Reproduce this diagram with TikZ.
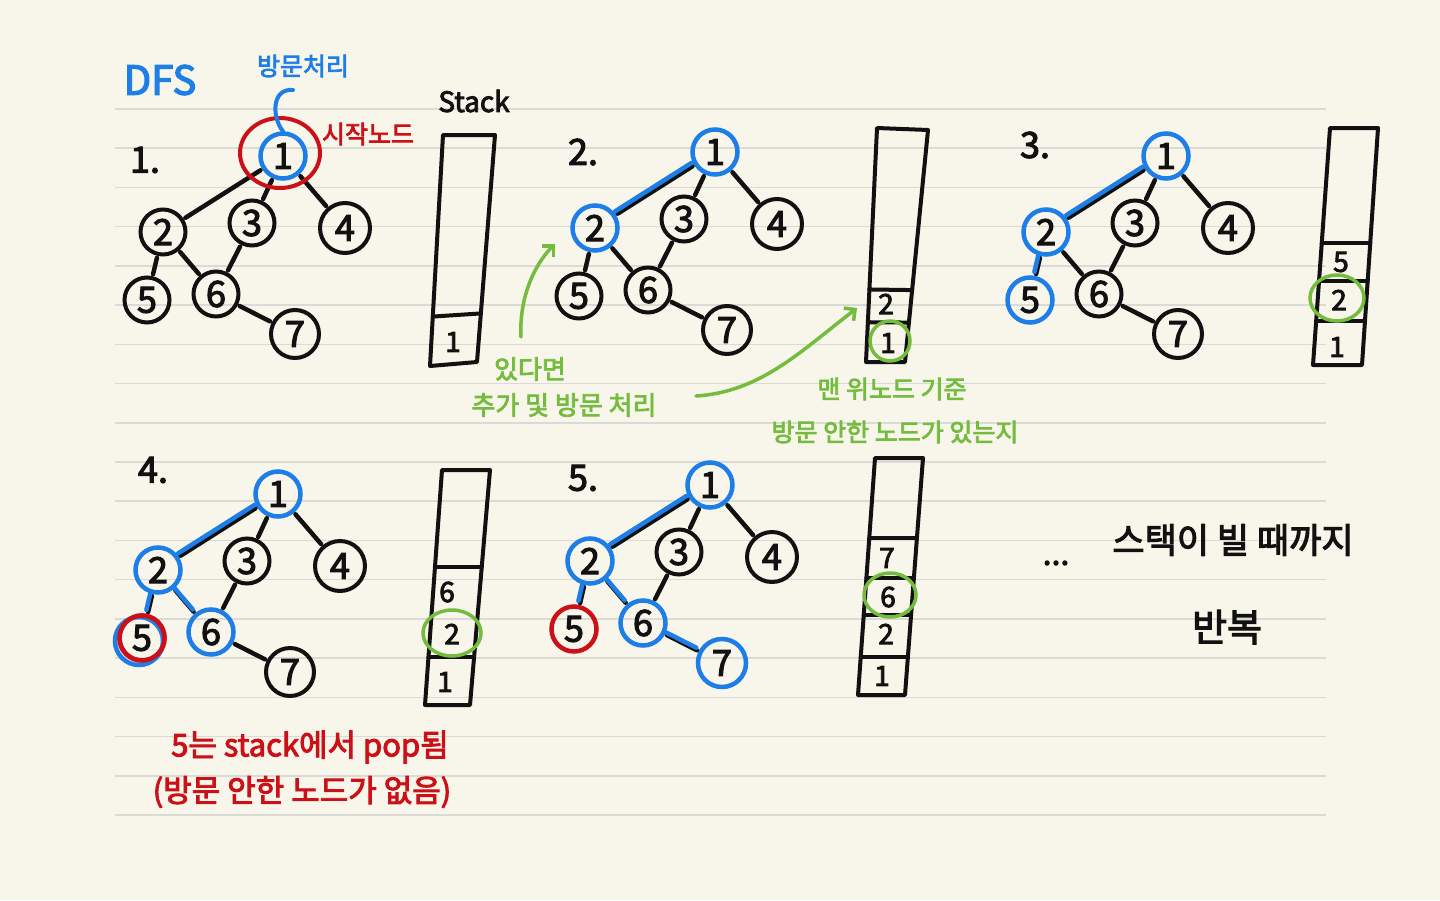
\documentclass[tikz,border=0pt]{standalone}
\usepackage{fontspec}
\setmainfont{Noto Sans CJK KR}[FakeBold=3]
\usetikzlibrary{arrows.meta,calc}
\definecolor{paper}{HTML}{F8F5EA}
\definecolor{rulecol}{HTML}{DADAD6}
\definecolor{ink}{HTML}{111111}
\definecolor{pblue}{HTML}{1C7EE6}
\definecolor{pred}{HTML}{CC1018}
\definecolor{pgreen}{HTML}{74BC3E}
\newcommand\myfs[1]{\fontsize{#1}{#1}\selectfont}
\newcommand\dfsgraph[3]{%
  \begin{scope}[shift={(#2,#3)}]
    \node[gnode,ns1] (#1n1) at (283,156) {1};
    \node[gnode,ns2] (#1n2) at (163,232) {2};
    \node[gnode,ns3] (#1n3) at (252,223) {3};
    \node[gnode,minimum size=50pt,ns4] (#1n4) at (345,228) {4};
    \node[gnode,ns5] (#1n5) at (147,300) {5};
    \node[gnode,ns6] (#1n6) at (216,294) {6};
    \node[gnode,minimum size=48pt,ns7] (#1n7) at (295,334) {7};
  \end{scope}
  \draw[gedge] (#1n1) -- (#1n2);
  \draw[gedge] (#1n1) -- (#1n3);
  \draw[gedge] (#1n1) -- (#1n4);
  \draw[gedge] (#1n2) -- (#1n5);
  \draw[gedge] (#1n2) -- (#1n6);
  \draw[gedge] (#1n3) -- (#1n6);
  \draw[gedge] (#1n6) -- (#1n7);
}
\tikzset{
  gnode/.style={circle, draw=ink, line width=4pt, minimum size=45pt, inner sep=0pt,
    font=\myfs{36}, text=ink},
  vis/.style={draw=pblue, line width=4.5pt},
  popped/.style={draw=pred, line width=4.5pt},
  ns1/.style={}, ns2/.style={}, ns3/.style={}, ns4/.style={},
  ns5/.style={}, ns6/.style={}, ns7/.style={},
  gedge/.style={draw=ink, line width=4.5pt, line cap=round, shorten <=2pt, shorten >=2pt},
  vedge/.style={draw=pblue, line width=4.5pt, line cap=round, shorten <=1pt, shorten >=1pt,
    transform canvas={shift={(-1.5pt,3pt)}}},
  stackline/.style={draw=ink, line width=4pt, line join=round, line cap=round},
  sitem/.style={inner sep=0pt, font=\myfs{28}, text=ink},
  greenring/.style={draw=pgreen, line width=3.5pt},
  redring/.style={draw=pred, line width=4pt},
  bluering/.style={draw=pblue, line width=4.5pt},
  garrow/.style={draw=pgreen, line width=3.5pt, line cap=round,
    -{Straight Barb[length=8pt,width=16pt,line width=3.5pt]}},
  txt/.style={inner sep=0pt, text=ink},
}
\begin{document}
\begin{tikzpicture}[x=1pt,y=-1pt]
\fill[paper] (0,0) rectangle (1440,900);
\useasboundingbox (0,0) rectangle (1440,900);
\foreach \k in {0,...,18}
  \draw[rulecol, line width=1.6pt] (115,{109+39.22*\k}) -- (1326,{109+39.22*\k});

% ---------- texts ----------
\node[txt, text=pblue, font=\myfs{40}] (dfs) at (160,80) {DFS};
\node[txt, text=pblue, font=\myfs{25}] (bm) at (303,66) {방문처리};
\node[txt, text=pred, font=\myfs{25}] (sj) at (368,134) {시작노드};
\node[txt, font=\myfs{28}] (stk) at (474,101) {Stack};
\node[txt, font=\myfs{36}] (l1) at (145,160) {1.};
\node[txt, font=\myfs{36}] (l2) at (583,152) {2.};
\node[txt, font=\myfs{36}] (l3) at (1035,145) {3.};
\node[txt, font=\myfs{36}] (l4) at (153,470) {4.};
\node[txt, font=\myfs{36}] (l5) at (583,478) {5.};

% ---------- panel 1 ----------
\tikzset{ns1/.style={vis}}
\dfsgraph{p1}{0}{0}
\draw[redring] ($(p1n1.center)+(-3,-3)$) ellipse (40pt and 35pt);
\coordinate (hook) at (293,90);
\draw[draw=pblue, line width=4pt, line cap=round] (hook) .. controls (271,88) and (272,118) .. (p1n1.north);

% ---------- panel 2 ----------
\tikzset{ns1/.style={vis}, ns2/.style={vis}}
\dfsgraph{p2}{432}{-4}
\draw[vedge] (p2n1) -- (p2n2);

% ---------- panel 3 ----------
\tikzset{ns1/.style={vis}, ns2/.style={vis}, ns5/.style={vis}}
\dfsgraph{p3}{883}{0}
\draw[vedge] (p3n1) -- (p3n2);
\draw[vedge] (p3n2) -- (p3n5);

% ---------- panel 4 ----------
\tikzset{ns1/.style={vis}, ns2/.style={vis}, ns5/.style={popped}, ns6/.style={vis}}
\dfsgraph{p4}{-5}{338}
\draw[vedge] (p4n1) -- (p4n2);
\draw[vedge] (p4n2) -- (p4n5);
\draw[vedge] (p4n2) -- (p4n6);
\draw[bluering] ($(p4n5.center)+(-3,3)$) circle (24pt);
\node[circle, popped, minimum size=45pt, inner sep=0pt] at (p4n5.center) {};

% ---------- panel 5 ----------
\tikzset{ns1/.style={vis}, ns2/.style={vis}, ns5/.style={popped}, ns6/.style={vis}, ns7/.style={vis}}
\dfsgraph{p5}{427}{329}
\draw[vedge] (p5n1) -- (p5n2);
\draw[vedge] (p5n2) -- (p5n5);
\draw[vedge] (p5n2) -- (p5n6);
\draw[vedge] (p5n6) -- (p5n7);

% ---------- stacks ----------
% stack 1
\coordinate (a1) at (443,135); \coordinate (b1) at (495,135);
\coordinate (c1) at (477,362); \coordinate (d1) at (430,366);
\draw[stackline] (a1) -- (b1) -- (c1) -- (d1) -- cycle;
\draw[stackline] ($(a1)!0.786!(d1)$) -- ($(b1)!0.786!(c1)$);
\node[sitem] (s1i1) at (453,342) {1};

% stack 2
\coordinate (a2) at (877,128); \coordinate (b2) at (928,130);
\coordinate (c2) at (905,362); \coordinate (d2) at (866,362);
\draw[stackline] (a2) -- (b2) -- (c2) -- (d2) -- cycle;
\draw[stackline] ($(a2)!0.69!(d2)$) -- ($(b2)!0.69!(c2)$);
\draw[stackline] ($(a2)!0.83!(d2)$) -- ($(b2)!0.83!(c2)$);
\node[sitem] (s2i2) at (886,304) {2};
\node[sitem] (s2i1) at (888,343) {1};
\draw[greenring] ($(s2i1.center)+(2,-2)$) circle (20pt);

% stack 3
\coordinate (a3) at (1330,128); \coordinate (b3) at (1378,128);
\coordinate (c3) at (1362,365); \coordinate (d3) at (1313,365);
\draw[stackline] (a3) -- (b3) -- (c3) -- (d3) -- cycle;
\draw[stackline] ($(a3)!0.485!(d3)$) -- ($(b3)!0.485!(c3)$);
\draw[stackline] ($(a3)!0.646!(d3)$) -- ($(b3)!0.646!(c3)$);
\draw[stackline] ($(a3)!0.814!(d3)$) -- ($(b3)!0.814!(c3)$);
\node[sitem] (s3i5) at (1341,262) {5};
\node[sitem] (s3i2) at (1339,300) {2};
\node[sitem] (s3i1) at (1337,347) {1};
\draw[greenring] ($(s3i2.center)+(-2,-2)$) ellipse (27pt and 23pt);

% stack 4
\coordinate (a4) at (442,470); \coordinate (b4) at (490,470);
\coordinate (c4) at (470,705); \coordinate (d4) at (425,705);
\draw[stackline] (a4) -- (b4) -- (c4) -- (d4) -- cycle;
\draw[stackline] ($(a4)!0.413!(d4)$) -- ($(b4)!0.413!(c4)$);
\draw[stackline] ($(a4)!0.796!(d4)$) -- ($(b4)!0.796!(c4)$);
\node[sitem] (s4i6) at (447,592) {6};
\node[sitem] (s4i2) at (452,634) {2};
\node[sitem] (s4i1) at (445,682) {1};
\draw[greenring] ($(s4i2.center)+(0,-1)$) ellipse (29pt and 23pt);

% stack 5
\coordinate (a5) at (875,458); \coordinate (b5) at (923,458);
\coordinate (c5) at (905,695); \coordinate (d5) at (858,695);
\draw[stackline] (a5) -- (b5) -- (c5) -- (d5) -- cycle;
\draw[stackline] ($(a5)!0.338!(d5)$) -- ($(b5)!0.338!(c5)$);
\draw[stackline] ($(a5)!0.506!(d5)$) -- ($(b5)!0.506!(c5)$);
\draw[stackline] ($(a5)!0.662!(d5)$) -- ($(b5)!0.662!(c5)$);
\draw[stackline] ($(a5)!0.84!(d5)$) -- ($(b5)!0.84!(c5)$);
\node[sitem] (s5i7) at (887,558) {7};
\node[sitem] (s5i6) at (888,597) {6};
\node[sitem] (s5i2) at (886,634) {2};
\node[sitem] (s5i1) at (882,676) {1};
\draw[greenring] ($(s5i6.center)+(2,-2)$) ellipse (26pt and 22pt);

% ---------- green notes ----------
\node[txt, text=pgreen, font=\myfs{26}] (g1) at (530,369) {있다면};
\node[txt, text=pgreen, font=\myfs{26}] (g2) at (564,405) {추가 및 방문 처리};
\node[txt, text=pgreen, font=\myfs{25}] (g3) at (892,389) {맨 위노드 기준};
\node[txt, text=pgreen, font=\myfs{25}] (g4) at (895,432) {방문 안한 노드가 있는지};
\coordinate (ga1s) at (521,337); \coordinate (ga1e) at (555,244);
\draw[garrow] (ga1s) .. controls (519,300) and (533,266) .. (ga1e);
\coordinate (ga2s) at (696,396); \coordinate (ga2e) at (857,308);
\draw[garrow] (ga2s) .. controls (760,392) and (800,352) .. (ga2e);

% ---------- red note ----------
\node[txt, text=pred, font=\myfs{31}] (r1) at (310,747) {5는 stack에서 pop됨};
\node[txt, text=pred, font=\myfs{31}] (r2) at (302,792) {(방문 안한 노드가 없음)};

% ---------- black note ----------
\node[txt, font=\myfs{32}] (dots) at (1056,563) {...};
\node[txt, font=\myfs{35}] (k1) at (1233,540) {스택이 빌 때까지};
\node[txt, font=\myfs{38}] (k2) at (1227,627) {반복};
\end{tikzpicture}
\end{document}
